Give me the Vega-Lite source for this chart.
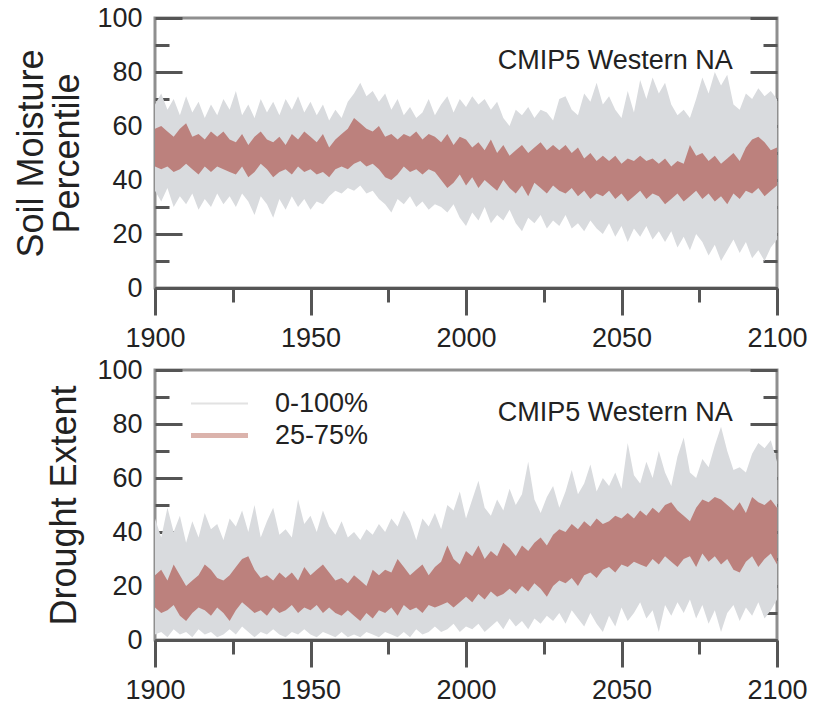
{
  "$schema": "https://vega.github.io/schema/vega-lite/v6.json",
  "background": "white",
  "padding": {"left": 12, "top": 2, "right": 30, "bottom": 5},
  "spacing": 1,
  "resolve": {"legend": {"color": "independent"}},
  "config": {
    "font": "Liberation Sans",
    "view": {"stroke": "#8f8f8f", "strokeWidth": 3},
    "axis": {"grid": false, "labelFont": "Liberation Sans", "titleFont": "Liberation Sans", "labelColor": "#222", "titleColor": "#222", "titleFontWeight": "normal", "tickColor": "#555", "tickWidth": 3, "domainColor": "#555", "domainWidth": 3, "labelFontSize": 27, "labelOverlap": false, "labelFlush": false}
  },
  "datasets": {
    "sm": [
      {"year":1900,"lo":36,"q1":45,"q3":59,"hi":68},{"year":1902,"lo":32,"q1":44,"q3":60,"hi":72},{"year":1904,"lo":37,"q1":45,"q3":58,"hi":66},{"year":1906,"lo":30,"q1":43,"q3":56,"hi":70},{"year":1908,"lo":34,"q1":44,"q3":59,"hi":64},
      {"year":1910,"lo":31,"q1":46,"q3":61,"hi":71},{"year":1912,"lo":35,"q1":44,"q3":56,"hi":65},{"year":1914,"lo":29,"q1":42,"q3":57,"hi":69},{"year":1916,"lo":33,"q1":45,"q3":55,"hi":63},{"year":1918,"lo":30,"q1":43,"q3":58,"hi":68},
      {"year":1920,"lo":35,"q1":45,"q3":56,"hi":64},{"year":1922,"lo":31,"q1":44,"q3":58,"hi":70},{"year":1924,"lo":34,"q1":43,"q3":55,"hi":66},{"year":1926,"lo":30,"q1":42,"q3":54,"hi":73},{"year":1928,"lo":35,"q1":45,"q3":57,"hi":64},
      {"year":1930,"lo":32,"q1":41,"q3":53,"hi":68},{"year":1932,"lo":27,"q1":43,"q3":56,"hi":63},{"year":1934,"lo":34,"q1":46,"q3":58,"hi":70},{"year":1936,"lo":31,"q1":44,"q3":55,"hi":65},{"year":1938,"lo":26,"q1":41,"q3":54,"hi":69},
      {"year":1940,"lo":33,"q1":43,"q3":56,"hi":64},{"year":1942,"lo":29,"q1":44,"q3":53,"hi":70},{"year":1944,"lo":34,"q1":42,"q3":57,"hi":66},{"year":1946,"lo":30,"q1":45,"q3":55,"hi":71},{"year":1948,"lo":33,"q1":43,"q3":58,"hi":65},
      {"year":1950,"lo":29,"q1":44,"q3":56,"hi":69},{"year":1952,"lo":32,"q1":42,"q3":54,"hi":64},{"year":1954,"lo":31,"q1":43,"q3":57,"hi":68},{"year":1956,"lo":34,"q1":41,"q3":52,"hi":62},{"year":1958,"lo":36,"q1":44,"q3":55,"hi":66},
      {"year":1960,"lo":35,"q1":45,"q3":57,"hi":63},{"year":1962,"lo":37,"q1":44,"q3":59,"hi":69},{"year":1964,"lo":36,"q1":46,"q3":63,"hi":72},{"year":1966,"lo":38,"q1":47,"q3":61,"hi":76},{"year":1968,"lo":35,"q1":45,"q3":59,"hi":71},
      {"year":1970,"lo":36,"q1":46,"q3":58,"hi":73},{"year":1972,"lo":33,"q1":44,"q3":60,"hi":69},{"year":1974,"lo":31,"q1":41,"q3":56,"hi":72},{"year":1976,"lo":28,"q1":40,"q3":57,"hi":66},{"year":1978,"lo":33,"q1":42,"q3":55,"hi":70},
      {"year":1980,"lo":31,"q1":45,"q3":57,"hi":64},{"year":1982,"lo":34,"q1":43,"q3":56,"hi":67},{"year":1984,"lo":30,"q1":44,"q3":58,"hi":63},{"year":1986,"lo":32,"q1":42,"q3":55,"hi":65},{"year":1988,"lo":29,"q1":44,"q3":57,"hi":70},
      {"year":1990,"lo":31,"q1":43,"q3":56,"hi":64},{"year":1992,"lo":30,"q1":40,"q3":54,"hi":68},{"year":1994,"lo":28,"q1":37,"q3":57,"hi":71},{"year":1996,"lo":31,"q1":39,"q3":53,"hi":65},{"year":1998,"lo":26,"q1":42,"q3":56,"hi":70},
      {"year":2000,"lo":23,"q1":38,"q3":55,"hi":67},{"year":2002,"lo":28,"q1":41,"q3":52,"hi":71},{"year":2004,"lo":25,"q1":37,"q3":54,"hi":68},{"year":2006,"lo":30,"q1":40,"q3":51,"hi":70},{"year":2008,"lo":24,"q1":38,"q3":55,"hi":66},
      {"year":2010,"lo":27,"q1":36,"q3":50,"hi":69},{"year":2012,"lo":25,"q1":40,"q3":53,"hi":63},{"year":2014,"lo":29,"q1":37,"q3":49,"hi":60},{"year":2016,"lo":24,"q1":35,"q3":51,"hi":66},{"year":2018,"lo":21,"q1":38,"q3":53,"hi":64},
      {"year":2020,"lo":26,"q1":34,"q3":50,"hi":67},{"year":2022,"lo":24,"q1":39,"q3":52,"hi":63},{"year":2024,"lo":27,"q1":37,"q3":54,"hi":66},{"year":2026,"lo":22,"q1":35,"q3":51,"hi":65},{"year":2028,"lo":25,"q1":38,"q3":53,"hi":62},
      {"year":2030,"lo":23,"q1":36,"q3":51,"hi":70},{"year":2032,"lo":27,"q1":35,"q3":53,"hi":71},{"year":2034,"lo":22,"q1":37,"q3":50,"hi":66},{"year":2036,"lo":24,"q1":34,"q3":52,"hi":64},{"year":2038,"lo":21,"q1":36,"q3":48,"hi":72},
      {"year":2040,"lo":25,"q1":33,"q3":50,"hi":69},{"year":2042,"lo":22,"q1":35,"q3":47,"hi":76},{"year":2044,"lo":20,"q1":34,"q3":49,"hi":68},{"year":2046,"lo":24,"q1":36,"q3":47,"hi":71},{"year":2048,"lo":19,"q1":33,"q3":49,"hi":66},
      {"year":2050,"lo":23,"q1":35,"q3":46,"hi":63},{"year":2052,"lo":17,"q1":32,"q3":48,"hi":73},{"year":2054,"lo":22,"q1":34,"q3":47,"hi":65},{"year":2056,"lo":19,"q1":36,"q3":49,"hi":77},{"year":2058,"lo":23,"q1":33,"q3":47,"hi":70},
      {"year":2060,"lo":18,"q1":35,"q3":48,"hi":78},{"year":2062,"lo":21,"q1":34,"q3":46,"hi":72},{"year":2064,"lo":17,"q1":31,"q3":48,"hi":76},{"year":2066,"lo":21,"q1":33,"q3":45,"hi":68},{"year":2068,"lo":15,"q1":35,"q3":47,"hi":64},
      {"year":2070,"lo":19,"q1":32,"q3":46,"hi":66},{"year":2072,"lo":14,"q1":34,"q3":53,"hi":63},{"year":2074,"lo":20,"q1":36,"q3":49,"hi":70},{"year":2076,"lo":17,"q1":33,"q3":50,"hi":78},{"year":2078,"lo":12,"q1":35,"q3":47,"hi":72},
      {"year":2080,"lo":16,"q1":32,"q3":49,"hi":80},{"year":2082,"lo":10,"q1":34,"q3":46,"hi":75},{"year":2084,"lo":14,"q1":31,"q3":48,"hi":79},{"year":2086,"lo":18,"q1":35,"q3":50,"hi":68},{"year":2088,"lo":13,"q1":33,"q3":47,"hi":66},
      {"year":2090,"lo":17,"q1":36,"q3":52,"hi":72},{"year":2092,"lo":11,"q1":35,"q3":55,"hi":70},{"year":2094,"lo":14,"q1":37,"q3":56,"hi":74},{"year":2096,"lo":10,"q1":34,"q3":54,"hi":71},{"year":2098,"lo":15,"q1":36,"q3":51,"hi":73},
      {"year":2100,"lo":18,"q1":38,"q3":52,"hi":70}
    ],
    "de": [
      {"year":1900,"lo":2,"q1":12,"q3":24,"hi":45},{"year":1902,"lo":3,"q1":10,"q3":26,"hi":38},{"year":1904,"lo":1,"q1":11,"q3":22,"hi":49},{"year":1906,"lo":4,"q1":13,"q3":28,"hi":40},{"year":1908,"lo":2,"q1":9,"q3":24,"hi":46},
      {"year":1910,"lo":3,"q1":7,"q3":20,"hi":36},{"year":1912,"lo":1,"q1":10,"q3":22,"hi":44},{"year":1914,"lo":4,"q1":12,"q3":24,"hi":38},{"year":1916,"lo":2,"q1":11,"q3":28,"hi":47},{"year":1918,"lo":3,"q1":9,"q3":26,"hi":41},
      {"year":1920,"lo":1,"q1":12,"q3":23,"hi":43},{"year":1922,"lo":2,"q1":10,"q3":22,"hi":37},{"year":1924,"lo":4,"q1":7,"q3":24,"hi":45},{"year":1926,"lo":2,"q1":11,"q3":27,"hi":42},{"year":1928,"lo":5,"q1":14,"q3":30,"hi":48},
      {"year":1930,"lo":3,"q1":12,"q3":31,"hi":40},{"year":1932,"lo":1,"q1":10,"q3":26,"hi":50},{"year":1934,"lo":3,"q1":11,"q3":23,"hi":38},{"year":1936,"lo":2,"q1":9,"q3":24,"hi":44},{"year":1938,"lo":4,"q1":12,"q3":22,"hi":49},
      {"year":1940,"lo":2,"q1":10,"q3":25,"hi":39},{"year":1942,"lo":1,"q1":11,"q3":23,"hi":41},{"year":1944,"lo":3,"q1":13,"q3":25,"hi":38},{"year":1946,"lo":2,"q1":10,"q3":22,"hi":52},{"year":1948,"lo":4,"q1":12,"q3":27,"hi":43},
      {"year":1950,"lo":2,"q1":11,"q3":24,"hi":46},{"year":1952,"lo":1,"q1":13,"q3":26,"hi":40},{"year":1954,"lo":3,"q1":10,"q3":28,"hi":48},{"year":1956,"lo":2,"q1":12,"q3":25,"hi":42},{"year":1958,"lo":1,"q1":10,"q3":22,"hi":39},
      {"year":1960,"lo":3,"q1":9,"q3":23,"hi":44},{"year":1962,"lo":1,"q1":11,"q3":21,"hi":38},{"year":1964,"lo":2,"q1":9,"q3":24,"hi":40},{"year":1966,"lo":1,"q1":7,"q3":22,"hi":37},{"year":1968,"lo":3,"q1":10,"q3":20,"hi":41},
      {"year":1970,"lo":2,"q1":8,"q3":26,"hi":39},{"year":1972,"lo":1,"q1":11,"q3":24,"hi":43},{"year":1974,"lo":3,"q1":10,"q3":26,"hi":40},{"year":1976,"lo":2,"q1":12,"q3":25,"hi":45},{"year":1978,"lo":1,"q1":9,"q3":30,"hi":42},
      {"year":1980,"lo":3,"q1":13,"q3":27,"hi":48},{"year":1982,"lo":1,"q1":11,"q3":24,"hi":44},{"year":1984,"lo":4,"q1":12,"q3":26,"hi":37},{"year":1986,"lo":2,"q1":10,"q3":28,"hi":45},{"year":1988,"lo":3,"q1":13,"q3":24,"hi":42},
      {"year":1990,"lo":5,"q1":12,"q3":27,"hi":47},{"year":1992,"lo":3,"q1":13,"q3":29,"hi":41},{"year":1994,"lo":4,"q1":14,"q3":35,"hi":50},{"year":1996,"lo":6,"q1":12,"q3":30,"hi":48},{"year":1998,"lo":3,"q1":14,"q3":28,"hi":55},
      {"year":2000,"lo":5,"q1":16,"q3":33,"hi":45},{"year":2002,"lo":4,"q1":14,"q3":31,"hi":52},{"year":2004,"lo":6,"q1":17,"q3":35,"hi":59},{"year":2006,"lo":3,"q1":15,"q3":30,"hi":49},{"year":2008,"lo":5,"q1":18,"q3":33,"hi":46},
      {"year":2010,"lo":7,"q1":16,"q3":31,"hi":52},{"year":2012,"lo":4,"q1":17,"q3":36,"hi":48},{"year":2014,"lo":8,"q1":19,"q3":34,"hi":56},{"year":2016,"lo":5,"q1":17,"q3":31,"hi":50},{"year":2018,"lo":7,"q1":20,"q3":35,"hi":54},
      {"year":2020,"lo":4,"q1":18,"q3":33,"hi":66},{"year":2022,"lo":8,"q1":21,"q3":36,"hi":52},{"year":2024,"lo":6,"q1":19,"q3":38,"hi":47},{"year":2026,"lo":9,"q1":16,"q3":35,"hi":53},{"year":2028,"lo":7,"q1":20,"q3":39,"hi":57},
      {"year":2030,"lo":10,"q1":22,"q3":41,"hi":49},{"year":2032,"lo":6,"q1":21,"q3":40,"hi":55},{"year":2034,"lo":11,"q1":23,"q3":43,"hi":63},{"year":2036,"lo":8,"q1":20,"q3":41,"hi":54},{"year":2038,"lo":5,"q1":24,"q3":44,"hi":58},
      {"year":2040,"lo":10,"q1":25,"q3":42,"hi":65},{"year":2042,"lo":6,"q1":23,"q3":45,"hi":55},{"year":2044,"lo":3,"q1":26,"q3":43,"hi":60},{"year":2046,"lo":9,"q1":27,"q3":44,"hi":57},{"year":2048,"lo":5,"q1":25,"q3":46,"hi":62},
      {"year":2050,"lo":12,"q1":28,"q3":45,"hi":56},{"year":2052,"lo":7,"q1":27,"q3":47,"hi":73},{"year":2054,"lo":10,"q1":29,"q3":45,"hi":61},{"year":2056,"lo":14,"q1":28,"q3":48,"hi":58},{"year":2058,"lo":8,"q1":27,"q3":46,"hi":66},
      {"year":2060,"lo":11,"q1":30,"q3":49,"hi":60},{"year":2062,"lo":3,"q1":28,"q3":47,"hi":70},{"year":2064,"lo":13,"q1":31,"q3":50,"hi":62},{"year":2066,"lo":9,"q1":29,"q3":51,"hi":57},{"year":2068,"lo":14,"q1":27,"q3":48,"hi":68},
      {"year":2070,"lo":10,"q1":30,"q3":46,"hi":75},{"year":2072,"lo":15,"q1":31,"q3":44,"hi":62},{"year":2074,"lo":8,"q1":27,"q3":49,"hi":60},{"year":2076,"lo":13,"q1":32,"q3":52,"hi":67},{"year":2078,"lo":6,"q1":29,"q3":51,"hi":64},
      {"year":2080,"lo":11,"q1":31,"q3":53,"hi":72},{"year":2082,"lo":3,"q1":28,"q3":52,"hi":79},{"year":2084,"lo":10,"q1":30,"q3":50,"hi":70},{"year":2086,"lo":13,"q1":26,"q3":48,"hi":63},{"year":2088,"lo":7,"q1":25,"q3":51,"hi":64},
      {"year":2090,"lo":12,"q1":29,"q3":47,"hi":62},{"year":2092,"lo":9,"q1":31,"q3":53,"hi":69},{"year":2094,"lo":14,"q1":27,"q3":51,"hi":73},{"year":2096,"lo":8,"q1":30,"q3":50,"hi":71},{"year":2098,"lo":11,"q1":32,"q3":52,"hi":74},
      {"year":2100,"lo":15,"q1":28,"q3":49,"hi":66}
    ]
  },
  "vconcat": [
    {
      "width": 622, "height": 270,
      "data": {"name": "sm"},
      "layer": [
        {
          "mark": {"type": "area", "color": "#d9dbde"},
          "encoding": {
            "x": {"field": "year", "type": "quantitative", "scale": {"domain": [1900, 2100]},
                  "axis": {"values": [1900,1925,1950,1975,2000,2025,2050,2075,2100], "format": "d", "labelExpr": "datum.value % 50 === 0 ? datum.label : ''", "tickSize": 27, "tickDash": {"condition": {"test": "datum.value % 50 !== 0", "value": [14, 100]}, "value": [1, 0]}, "labelPadding": 10, "title": null}},
            "y": {"field": "lo", "type": "quantitative", "scale": {"domain": [0, 100]},
                  "axis": {"orient": "left", "values": [0,10,20,30,40,50,60,70,80,90,100], "labelExpr": "datum.value % 20 === 0 ? datum.label : ''", "offset": -27, "domain": false, "tickSize": 27, "tickDash": {"condition": {"test": "datum.value % 20 !== 0", "value": [0, 13, 14, 100]}, "value": [1, 0]}, "labelPadding": 13, "title": ["Soil Moisture", "Percentile"], "titleFontSize": 36, "titleLineHeight": 36, "titlePadding": 10}},
            "y2": {"field": "hi"}
          }
        },
        {
          "mark": {"type": "area", "color": "#bc817d"},
          "encoding": {
            "x": {"field": "year", "type": "quantitative", "scale": {"domain": [1900, 2100]},
                  "axis": {"values": [1900,1925,1950,1975,2000,2025,2050,2075,2100], "format": "d", "labelExpr": "datum.value % 50 === 0 ? datum.label : ''", "tickSize": 27, "tickDash": {"condition": {"test": "datum.value % 50 !== 0", "value": [14, 100]}, "value": [1, 0]}, "labelPadding": 10, "title": null}},
            "y": {"field": "q1", "type": "quantitative", "scale": {"domain": [0, 100]},
                  "axis": {"orient": "right", "values": [0,10,20,30,40,50,60,70,80,90,100], "labels": false, "offset": -27, "domain": false, "tickSize": 27, "tickDash": {"condition": {"test": "datum.value % 20 !== 0", "value": [0, 13, 14, 100]}, "value": [1, 0]}, "title": null}},
            "y2": {"field": "q3"}
          }
        },
        {
          "data": {"values": [{"label": "CMIP5 Western NA"}]},
          "mark": {"type": "text", "fontSize": 27, "color": "#222", "font": "Liberation Sans", "align": "center", "baseline": "middle"},
          "encoding": {
            "x": {"datum": 2048, "type": "quantitative", "scale": {"domain": [1900, 2100]},
                  "axis": {"values": [1900,1925,1950,1975,2000,2025,2050,2075,2100], "format": "d", "labelExpr": "datum.value % 50 === 0 ? datum.label : ''", "tickSize": 27, "tickDash": {"condition": {"test": "datum.value % 50 !== 0", "value": [14, 100]}, "value": [1, 0]}, "labelPadding": 10, "title": null}},
            "y": {"datum": 84, "type": "quantitative", "scale": {"domain": [0, 100]}, "axis": null},
            "text": {"field": "label"}
          }
        }
      ],
      "resolve": {"axis": {"y": "independent"}}
    },
    {
      "width": 622, "height": 270,
      "data": {"name": "de"},
      "layer": [
        {
          "mark": {"type": "area"},
          "encoding": {
            "x": {"field": "year", "type": "quantitative", "scale": {"domain": [1900, 2100]},
                  "axis": {"values": [1900,1925,1950,1975,2000,2025,2050,2075,2100], "format": "d", "labelExpr": "datum.value % 50 === 0 ? datum.label : ''", "tickSize": 27, "tickDash": {"condition": {"test": "datum.value % 50 !== 0", "value": [14, 100]}, "value": [1, 0]}, "labelPadding": 10, "title": null}},
            "y": {"field": "lo", "type": "quantitative", "scale": {"domain": [0, 100]},
                  "axis": {"orient": "left", "values": [0,10,20,30,40,50,60,70,80,90,100], "labelExpr": "datum.value % 20 === 0 ? datum.label : ''", "offset": -27, "domain": false, "tickSize": 27, "tickDash": {"condition": {"test": "datum.value % 20 !== 0", "value": [0, 13, 14, 100]}, "value": [1, 0]}, "labelPadding": 13, "title": "Drought Extent", "titleFontSize": 36, "titlePadding": 13}},
            "y2": {"field": "hi"},
            "color": {"datum": "0-100%", "type": "nominal", "scale": {"domain": ["0-100%", "25-75%"], "range": ["#d9dbde", "#bc817d"]},
                      "legend": {"orient": "none", "legendX": 51, "legendY": 20, "title": null, "padding": 0, "symbolType": "stroke", "symbolSize": 900, "symbolStrokeWidth": 3, "labelFontSize": 27, "labelFont": "Liberation Sans", "labelColor": "#222", "labelOffset": 42, "rowPadding": 4,
                                 "encode": {"symbols": {"update": {"size": {"value": 3249}, "stroke": {"signal": "datum.value === '0-100%' ? '#e2e2e2' : '#dbb3ac'"}, "strokeWidth": {"signal": "datum.value === '0-100%' ? 2 : 5"}}}}}}
          }
        },
        {
          "mark": {"type": "area"},
          "encoding": {
            "x": {"field": "year", "type": "quantitative", "scale": {"domain": [1900, 2100]},
                  "axis": {"values": [1900,1925,1950,1975,2000,2025,2050,2075,2100], "format": "d", "labelExpr": "datum.value % 50 === 0 ? datum.label : ''", "tickSize": 27, "tickDash": {"condition": {"test": "datum.value % 50 !== 0", "value": [14, 100]}, "value": [1, 0]}, "labelPadding": 10, "title": null}},
            "y": {"field": "q1", "type": "quantitative", "scale": {"domain": [0, 100]},
                  "axis": {"orient": "right", "values": [0,10,20,30,40,50,60,70,80,90,100], "labels": false, "offset": -27, "domain": false, "tickSize": 27, "tickDash": {"condition": {"test": "datum.value % 20 !== 0", "value": [0, 13, 14, 100]}, "value": [1, 0]}, "title": null}},
            "y2": {"field": "q3"},
            "color": {"datum": "25-75%", "type": "nominal"}
          }
        },
        {
          "data": {"values": [{"label": "CMIP5 Western NA"}]},
          "mark": {"type": "text", "fontSize": 27, "color": "#222", "font": "Liberation Sans", "align": "center", "baseline": "middle"},
          "encoding": {
            "x": {"datum": 2048, "type": "quantitative", "scale": {"domain": [1900, 2100]},
                  "axis": {"values": [1900,1925,1950,1975,2000,2025,2050,2075,2100], "format": "d", "labelExpr": "datum.value % 50 === 0 ? datum.label : ''", "tickSize": 27, "tickDash": {"condition": {"test": "datum.value % 50 !== 0", "value": [14, 100]}, "value": [1, 0]}, "labelPadding": 10, "title": null}},
            "y": {"datum": 84, "type": "quantitative", "scale": {"domain": [0, 100]}, "axis": null},
            "text": {"field": "label"}
          }
        }
      ],
      "resolve": {"axis": {"y": "independent"}}
    }
  ]
}
